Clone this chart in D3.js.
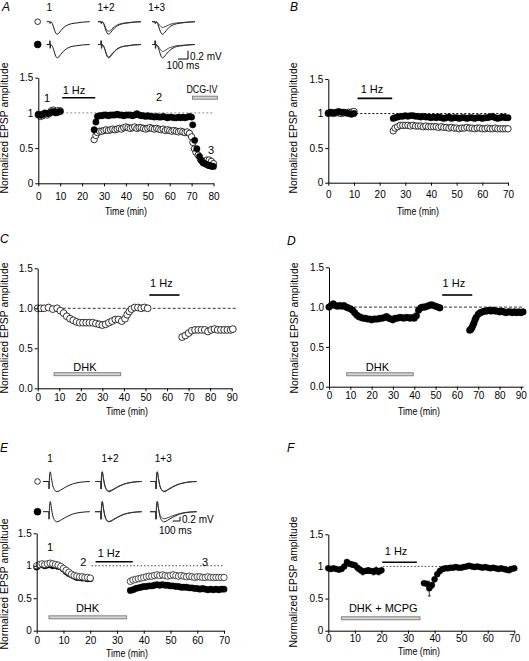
<!DOCTYPE html>
<html><head><meta charset="utf-8">
<script src="https://cdn.jsdelivr.net/npm/d3@7"></script>
<style>body{margin:0;background:#fff}svg{display:block}</style>
</head><body>
<svg id="c" width="529" height="661"></svg>
<script>
// ---------------- DATA ----------------
const yTicks = [0, 0.5, 1, 1.5];
const yTickLabelsInt = ["0", "0.5", "1", "1.5"];
const yTickLabelsDec = ["0.0", "0.5", "1.0", "1.5"];
const xTicks80 = [0,10,20,30,40,50,60,70,80];
const xTicks70 = [0,10,20,30,40,50,60,70];
const xTicks90 = [0,10,20,30,40,50,60,70,80,90];

// Panel A: [time (min), normalized amplitude]
const aFilled = [[0,0.98],[1,0.97],[2,0.98],[3,1.0],[4,0.99],[5,1.0],[6,1.01],[7,1.02],[8,1.0],[9,1.01],[10,1.02],
 [25.5,0.76],[26.3,0.87],[27,0.95],[28,0.96],[29,0.96],[30,0.97],[31,0.97],[32,0.96],[33,0.97],[34,0.97],[35,0.97],[36,0.98],[37,0.97],[38,0.97],[39,0.96],[40,0.97],[41,0.97],[42,0.97],[43,0.96],[44,0.97],[45,0.99],[46,0.97],[47,0.96],[48,0.96],[49,0.95],[50,0.96],[51,0.95],[52,0.95],[53,0.94],[54,0.95],[55,0.94],[56,0.94],[57,0.95],[58,0.94],[59,0.93],[60,0.94],[61,0.94],[62,0.93],[63,0.93],[64,0.94],[65,0.93],[66,0.94],[67,0.93],[68,0.94],[69,0.95],[70,0.94],
 [70.5,0.83],[71.4,0.61],[72.4,0.49],[73.6,0.38],[74.5,0.32],[75.3,0.29],[76,0.28],[76.7,0.27],[77.4,0.26],[78,0.25],[78.7,0.25],[79.3,0.24],[80,0.24]];
const aOpen = [[0,0.97],[1,0.95],[2,0.96],[3,0.98],[4,0.97],[5,0.99],[6,1.03],[7,1.04],[8,1.01],[9,1.03],[10,1.03],
 [25.5,0.62],[26.3,0.68],[27,0.72],[28,0.74],[29,0.74],[30,0.75],[31,0.76],[32,0.75],[33,0.76],[34,0.77],[35,0.76],[36,0.77],[37,0.78],[38,0.77],[39,0.79],[40,0.8],[41,0.79],[42,0.78],[43,0.79],[44,0.8],[45,0.78],[46,0.79],[47,0.79],[48,0.78],[49,0.77],[50,0.78],[51,0.79],[52,0.78],[53,0.77],[54,0.78],[55,0.77],[56,0.76],[57,0.77],[58,0.75],[59,0.76],[60,0.75],[61,0.74],[62,0.75],[63,0.74],[64,0.73],[65,0.74],[66,0.73],[67,0.72],[68,0.73],[69,0.71],
 [70,0.66],[70.6,0.58],[71.3,0.49],[72,0.44],[73,0.4],[74,0.34],[75,0.31],[76,0.31],[77,0.33],[78,0.33],[79,0.31],[80,0.28]];

// Panel B
const bFilled = [[0,1.01],[1,1.02],[2,1.01],[3,1.02],[4,1.03],[5,1.02],[6,1.02],[7,1.01],[8,1.0],[9,0.99],[10,1.0],
 [25.3,0.93],[26,0.94],[27,0.95],[28,0.96],[29,0.96],[30,0.97],[31,0.96],[32,0.97],[33,0.97],[34,0.96],[35,0.96],[36,0.95],[37,0.96],[38,0.95],[39,0.95],[40,0.94],[41,0.95],[42,0.94],[43,0.95],[44,0.94],[45,0.93],[46,0.94],[47,0.95],[48,0.93],[49,0.94],[50,0.94],[51,0.93],[52,0.94],[53,0.94],[54,0.93],[55,0.94],[56,0.94],[57,0.93],[58,0.94],[59,0.94],[60,0.93],[61,0.94],[62,0.94],[63,0.95],[64,0.96],[65,0.94],[66,0.93],[67,0.94],[68,0.95],[69,0.94],[70,0.94]];
const bOpen = [[0,1.0],[1,1.01],[2,1.0],[3,1.01],[4,1.01],[5,1.0],[6,1.01],[7,1.01],[8,1.02],[9,1.02],[10,1.03],
 [25.3,0.75],[26,0.79],[27,0.81],[28,0.83],[29,0.83],[30,0.83],[31,0.83],[32,0.82],[33,0.83],[34,0.82],[35,0.82],[36,0.82],[37,0.81],[38,0.82],[39,0.81],[40,0.81],[41,0.81],[42,0.81],[43,0.8],[44,0.81],[45,0.8],[46,0.8],[47,0.79],[48,0.8],[49,0.79],[50,0.79],[51,0.78],[52,0.79],[53,0.79],[54,0.8],[55,0.79],[56,0.79],[57,0.78],[58,0.79],[59,0.79],[60,0.78],[61,0.78],[62,0.79],[63,0.78],[64,0.78],[65,0.79],[66,0.78],[67,0.78],[68,0.78],[69,0.78],[70,0.78]];

// Panel C (open)
const cOpen = [[0,1.0],[1.5,1.0],[3,1.0],[5,1.01],[7,0.99],[9,1.0],[10.5,0.97],[12,0.94],[13.5,0.9],[15,0.87],[16.5,0.85],[18,0.83],[19.5,0.82],[21,0.82],[22.5,0.82],[24,0.82],[25.5,0.82],[27,0.81],[28.5,0.8],[30,0.79],[31.5,0.8],[33,0.82],[34.5,0.84],[36,0.86],[37.5,0.86],[39,0.84],[40.5,0.87],[41.5,0.92],[42.5,0.96],[43.5,0.99],[45,1.01],[46.5,1.01],[48,1.0],[49.5,1.01],[51,1.0],
 [67,0.64],[68.5,0.66],[70,0.69],[71.5,0.72],[73,0.73],[74.5,0.73],[76,0.73],[77.5,0.73],[79,0.71],[80.5,0.73],[82,0.74],[83.5,0.73],[85,0.73],[86.5,0.73],[88,0.73],[89.5,0.73],[90.5,0.74]];

// Panel D (filled)
const dFilled = [[0,1.0],[1,1.02],[2,1.04],[3,1.02],[4,1.01],[5,1.02],[6,1.01],[7,1.02],[8,1.0],[9,0.99],[10,0.98],[11,0.96],[12,0.93],[13,0.9],[14,0.88],[15,0.87],[16,0.86],[17,0.86],[18,0.85],[19,0.85],[20,0.84],[21,0.85],[22,0.85],[23,0.85],[24,0.86],[25,0.86],[26,0.87],[27,0.88],[28,0.86],[29,0.85],[30,0.84],[31,0.86],[32,0.86],[33,0.87],[34,0.87],[35,0.86],[36,0.87],[37,0.87],[38,0.86],[39,0.87],[40,0.86],[41,0.89],[42,0.96],[43,0.99],[44,1.0],[45,1.0],[46,1.01],[47,1.02],[48,1.03],[49,1.02],[50,1.01],[51,1.0],[52,0.99],
 [66,0.71],[66.5,0.72],[67,0.74],[67.5,0.77],[68,0.8],[68.5,0.84],[69,0.87],[70,0.91],[71,0.93],[72,0.94],[73,0.95],[74,0.95],[75,0.96],[76,0.95],[77,0.96],[78,0.95],[79,0.95],[80,0.94],[81,0.95],[82,0.94],[83,0.93],[84,0.94],[85,0.94],[86,0.93],[87,0.94],[88,0.93],[89,0.94],[90,0.93],[91,0.94]];

// Panel E
const eFilled = [[0,0.98],[1,1.01],[2,1.02],[3,1.0],[4,1.01],[5,1.02],[6,1.0],[7,1.01],[8,0.99],[9,0.98],[10,0.95],[11,0.91],[12,0.88],[13,0.86],[14,0.84],[15,0.82],[16,0.82],[17,0.81],[18,0.81],[19,0.8],[20,0.8],
 [35,0.62],[36,0.63],[37,0.65],[38,0.66],[39,0.67],[40,0.68],[41,0.68],[42,0.69],[43,0.69],[44,0.7],[45,0.71],[46,0.7],[47,0.71],[48,0.7],[49,0.7],[50,0.69],[51,0.69],[52,0.68],[53,0.68],[54,0.67],[55,0.67],[56,0.67],[57,0.66],[58,0.66],[59,0.65],[60,0.65],[61,0.64],[62,0.65],[63,0.64],[64,0.63],[65,0.64],[66,0.63],[67,0.64],[68,0.63],[69,0.64],[70,0.64]];
const eOpen = [[0,1.0],[1,1.02],[2,1.03],[3,1.02],[4,1.03],[5,1.04],[6,1.03],[7,1.02],[8,1.01],[9,0.99],[10,0.96],[11,0.93],[12,0.9],[13,0.87],[14,0.85],[15,0.84],[16,0.83],[17,0.83],[18,0.82],[19,0.82],[20,0.81],
 [35,0.76],[36,0.78],[37,0.79],[38,0.8],[39,0.81],[40,0.82],[41,0.83],[42,0.84],[43,0.84],[44,0.85],[45,0.86],[46,0.85],[47,0.86],[48,0.85],[49,0.84],[50,0.85],[51,0.86],[52,0.85],[53,0.84],[54,0.85],[55,0.84],[56,0.83],[57,0.84],[58,0.83],[59,0.82],[60,0.83],[61,0.83],[62,0.82],[63,0.82],[64,0.83],[65,0.82],[66,0.82],[67,0.82],[68,0.82],[69,0.82],[70,0.82]];

// Panel F: [time, mean, s.e.m.]
const fFilled = [[0,0.97,0.02],[1,0.96,0.02],[2,0.97,0.02],[3,0.96,0.02],[4,0.95,0.02],[5,0.96,0.02],[6,1.0,0.02],[7,1.07,0.03],[8,1.04,0.03],[9,1.03,0.04],[10,1.02,0.04],[11,0.98,0.05],[12,0.95,0.05],[13,0.92,0.05],[14,0.93,0.04],[15,0.94,0.05],[16,0.93,0.04],[17,0.92,0.05],[18,0.94,0.06],[19,0.92,0.05],[20,0.94,0.04],
 [36,0.74,0.03],[37,0.73,0.03],[38,0.66,0.12],[39,0.71,0.05],[40,0.8,0.04],[41,0.88,0.03],[42,0.93,0.03],[43,0.96,0.02],[44,0.97,0.02],[45,0.97,0.02],[46,0.98,0.02],[47,0.98,0.02],[48,0.99,0.02],[49,0.98,0.02],[50,0.98,0.02],[51,0.99,0.02],[52,1.0,0.02],[53,1.01,0.02],[54,1.0,0.02],[55,0.99,0.02],[56,1.0,0.02],[57,0.99,0.02],[58,0.98,0.02],[59,0.99,0.02],[60,0.98,0.02],[61,0.97,0.02],[62,0.98,0.02],[63,0.97,0.02],[64,0.96,0.02],[65,0.97,0.02],[66,0.96,0.02],[67,0.95,0.02],[68,0.94,0.02],[69,0.96,0.02],[70,0.97,0.02]];

// Example traces (time in ms, potential in mV)
const traceTimesA = [0,30,32,35,40,50,62,75,90,105,120,140,165,200,245,300,360,430];
const trAOpen1 = [0,0,-0.04,-0.04,0,-0.02,-0.08,-0.18,-0.27,-0.3,-0.28,-0.22,-0.15,-0.09,-0.05,-0.03,-0.01,0];
const trAOpen2 = [0,0,-0.04,-0.04,0,-0.02,-0.06,-0.14,-0.21,-0.23,-0.22,-0.17,-0.12,-0.07,-0.04,-0.02,-0.01,0];
const trAOpen3 = [0,0,-0.04,-0.04,0,-0.01,-0.04,-0.08,-0.12,-0.14,-0.13,-0.11,-0.08,-0.05,-0.03,-0.02,-0.01,0];
const trAFilled1 = [0,0,0.09,-0.09,0,-0.02,-0.07,-0.17,-0.28,-0.32,-0.3,-0.24,-0.17,-0.1,-0.05,-0.03,-0.01,0];
const trAFilled2 = [0,0,0.09,-0.09,0,-0.02,-0.07,-0.16,-0.26,-0.3,-0.28,-0.22,-0.16,-0.09,-0.05,-0.03,-0.01,0];
const trAFilled3 = [0,0,0.09,-0.09,0,-0.01,-0.04,-0.09,-0.14,-0.17,-0.16,-0.13,-0.09,-0.06,-0.03,-0.02,-0.01,0];

const traceTimesE = [0,80,82,90,100,115,135,160,190,220,260,310,370,440,520,640];
const trEOpen1 = [0,0,-0.35,0.3,0.45,0.15,-0.2,-0.4,-0.47,-0.44,-0.36,-0.26,-0.16,-0.08,-0.03,0];
const trEOpen2 = [0,0,-0.35,0.3,0.45,0.15,-0.18,-0.37,-0.44,-0.41,-0.34,-0.24,-0.15,-0.08,-0.03,0];
const trEOpen3 = [0,0,-0.35,0.3,0.45,0.15,-0.18,-0.38,-0.45,-0.42,-0.34,-0.24,-0.15,-0.08,-0.03,0];
const trEFilled1 = [0,0,-0.35,0.3,0.47,0.17,-0.2,-0.4,-0.47,-0.44,-0.36,-0.26,-0.16,-0.08,-0.03,0];
const trEFilled2 = [0,0,-0.35,0.3,0.47,0.17,-0.18,-0.38,-0.45,-0.42,-0.34,-0.25,-0.15,-0.08,-0.03,0];
const trEFilled3 = [0,0,-0.35,0.3,0.47,0.17,-0.12,-0.27,-0.33,-0.31,-0.26,-0.19,-0.12,-0.06,-0.02,0];

const traceLabels = ["1", "1+2", "1+3"];

// ---------------- DRAWING ----------------
const FF = '"Liberation Sans", Arial, Helvetica, sans-serif';
const svg = d3.select("#c");

function txt(g, x, y, s, size, anchor, opts) {
  opts = opts || {};
  const t = g.append("text").attr("x", x).attr("y", y).text(s)
    .attr("font-family", FF).attr("font-size", size)
    .attr("text-anchor", anchor || "middle").attr("fill", "#000");
  if (opts.italic) t.attr("font-style", "italic");
  if (opts.len) t.attr("textLength", opts.len).attr("lengthAdjust", "spacingAndGlyphs");
  if (opts.dy) t.attr("dy", opts.dy);
  return t;
}

function drawPanel(p) {
  const g = svg.append("g");
  const x = d3.scaleLinear().domain(p.xDomain).range(p.xRange);
  const y = d3.scaleLinear().domain([0, 1.5]).range(p.yRange);

  g.append("line").attr("x1", x(p.dash[0])).attr("x2", x(p.dash[1]))
    .attr("y1", y(1)).attr("y2", y(1))
    .attr("stroke", p.dashColor).attr("stroke-width", 1).attr("stroke-dasharray", p.dashArray);

  p.bars.forEach(b => {
    if (b.kind === "stim") {
      g.append("line").attr("x1", x(b.from)).attr("x2", x(b.to))
        .attr("y1", y(b.v)).attr("y2", y(b.v)).attr("stroke", "#000").attr("stroke-width", 1.6);
    } else {
      g.append("rect").attr("x", x(b.from)).attr("width", x(b.to) - x(b.from))
        .attr("y", y(b.v) - 1.5).attr("height", 3)
        .attr("fill", "#d4d4d4").attr("stroke", "#777").attr("stroke-width", 0.9);
    }
    txt(g, x(b.lt), y(b.lv), b.label, b.size || 11, "middle", {dy: "0.35em", len: b.len});
  });
  (p.notes || []).forEach(n => txt(g, x(n.t), y(n.v), n.label, 11, "middle", {dy: "0.35em"}));

  p.series.forEach(s => {
    if (s.err) {
      g.selectAll(null).data(s.data).join("line")
        .attr("x1", d => x(d[0])).attr("x2", d => x(d[0]))
        .attr("y1", d => y(d[1] - d[2])).attr("y2", d => y(d[1] + d[2]))
        .attr("stroke", "#000").attr("stroke-width", 0.8);
      g.selectAll(null).data(s.data).join("line")
        .attr("x1", d => x(d[0]) - 1.5).attr("x2", d => x(d[0]) + 1.5)
        .attr("y1", d => y(d[1] - d[2])).attr("y2", d => y(d[1] - d[2]))
        .attr("stroke", "#000").attr("stroke-width", 0.8);
    }
    g.selectAll(null).data(s.data).join("circle")
      .attr("cx", d => x(d[0])).attr("cy", d => y(d[1])).attr("r", s.r)
      .attr("fill", s.filled ? "#000" : "#fff")
      .attr("stroke", s.stroke || "#000").attr("stroke-width", s.filled ? 0.4 : 0.8);
  });

  const xa = g.append("g").attr("transform", `translate(0,${p.yRange[0]})`)
    .call(d3.axisBottom(x).tickValues(p.xTicks).tickSize(3).tickSizeOuter(0));
  xa.selectAll("text").attr("y", p.xLabOff).attr("dy", "0");
  const ya = g.append("g").attr("transform", `translate(${p.xRange[0]},0)`)
    .call(d3.axisLeft(y).tickValues(yTicks).tickFormat((d, i) => p.yLabels[i]).tickSize(3).tickPadding(2).tickSizeOuter(0));
  [xa, ya].forEach(a => {
    a.attr("font-family", FF).attr("font-size", 10);
    a.selectAll("path,line").attr("stroke", "#000").attr("stroke-width", 1);
    a.selectAll("text").attr("fill", "#000");
  });

  txt(g, 0, 0, "Normalized EPSP amplitude", 10.4, "middle")
    .attr("transform", `translate(${p.yTitleX},${p.yTitleY}) rotate(-90)`);
  txt(g, p.xTitleX, p.xTitleY, "Time (min)", 10.4, "middle", {len: 42});
  txt(g, p.letterX, p.letterY, p.letter, 12, "start", {italic: true});
}

function drawTraces(tc) {
  const g = svg.append("g");
  const tmax = d3.max(tc.times);
  tc.labels.forEach((l, i) => txt(g, tc.labelX[i], tc.labelY, l, 10, "middle", {dy: "0.35em"}));
  tc.rows.forEach((row, ri) => {
    const base = tc.rowBase[ri];
    const y = d3.scaleLinear().domain([0, 1]).range([base, base - tc.pxPerMv]);
    g.append("circle").attr("cx", tc.markerX).attr("cy", base).attr("r", row.filled ? 3.4 : 2.8)
      .attr("fill", row.filled ? "#000" : "#fff").attr("stroke", "#000").attr("stroke-width", 0.8);
    row.groups.forEach((traces, gi) => {
      const x0 = tc.starts[gi];
      const x = d3.scaleLinear().domain([0, tmax]).range([x0, x0 + tmax * tc.pxPerMs]);
      const line = d3.line().x((d, k) => x(tc.times[k])).y(d => y(d)).curve(d3.curveMonotoneX);
      traces.forEach((tr, ti) => {
        g.append("path").attr("d", line(tr)).attr("fill", "none")
          .attr("stroke", ti === 0 ? "#000" : "#333").attr("stroke-width", 0.9);
      });
    });
  });
  const sb = tc.scaleBar;
  const sx = d3.scaleLinear().domain([0, 100]).range([sb.x, sb.x + 100 * tc.pxPerMs]);
  const sy = d3.scaleLinear().domain([0, 0.2]).range([sb.y, sb.y - 0.2 * tc.pxPerMv]);
  g.append("path").attr("d", `M${sx(0)},${sy(0)}H${sx(100)}V${sy(0.2)}`)
    .attr("fill", "none").attr("stroke", "#000").attr("stroke-width", 1);
  txt(g, sx(100) + 2, sb.mvY, "0.2 mV", 10, "start", {dy: "0.35em"});
  txt(g, sb.msX, sb.msY, "100 ms", 10, "middle", {dy: "0.35em"});
}

drawPanel({
  letter: "A", letterX: 2, letterY: 11,
  xDomain: [0, 80], xRange: [38.3, 213.5], yRange: [183.3, 77.7],
  xTicks: xTicks80, yLabels: yTickLabelsInt, xLabOff: 17,
  dash: [0, 80], dashColor: "#8a8a8a", dashArray: "2,2",
  bars: [
    {kind: "stim", from: 10.9, to: 26, v: 1.216, label: "1 Hz", lt: 16.3, lv: 1.325},
    {kind: "drug", from: 70.4, to: 81.8, v: 1.216, label: "DCG-IV", lt: 74.7, lv: 1.34, size: 10.5, len: 31}
  ],
  notes: [{label: "1", t: 4.0, v: 1.21}, {label: "2", t: 55.1, v: 1.23}, {label: "3", t: 78.9, v: 0.47}],
  series: [{data: aOpen, filled: false, r: 3.2}, {data: aFilled, filled: true, r: 3.2}],
  yTitleX: 8, yTitleY: 128, xTitleX: 126, xTitleY: 215
});
drawPanel({
  letter: "B", letterX: 290, letterY: 11,
  xDomain: [0, 70], xRange: [328.3, 508], yRange: [182.7, 79],
  xTicks: xTicks70, yLabels: yTickLabelsInt, xLabOff: 15,
  dash: [0, 70], dashColor: "#000", dashArray: "2,2",
  bars: [{kind: "stim", from: 11.4, to: 24.9, v: 1.22, label: "1 Hz", lt: 17.0, lv: 1.356}],
  series: [{data: bOpen, filled: false, r: 3.2}, {data: bFilled, filled: true, r: 3.2}],
  yTitleX: 297, yTitleY: 128, xTitleX: 418, xTitleY: 215
});
drawPanel({
  letter: "C", letterX: 0, letterY: 243,
  xDomain: [0, 90], xRange: [37.7, 231.7], yRange: [388.3, 268.3],
  xTicks: xTicks90, yLabels: yTickLabelsDec, xLabOff: 12.5,
  dash: [0, 92], dashColor: "#333", dashArray: "3,2",
  bars: [
    {kind: "stim", from: 51.8, to: 65.8, v: 1.166, label: "1 Hz", lt: 57.4, lv: 1.316},
    {kind: "drug", from: 7.6, to: 38.5, v: 0.176, label: "DHK", lt: 21.9, lv: 0.267}
  ],
  series: [{data: cOpen, filled: false, r: 3.4}],
  yTitleX: 8, yTitleY: 328, xTitleX: 127, xTitleY: 415
});
drawPanel({
  letter: "D", letterX: 287, letterY: 245,
  xDomain: [0, 91], xRange: [329, 523], yRange: [386.7, 267.3],
  xTicks: xTicks90, yLabels: yTickLabelsDec, xLabOff: 12.5,
  dash: [0, 91], dashColor: "#333", dashArray: "3,2",
  bars: [
    {kind: "stim", from: 53.1, to: 67.2, v: 1.152, label: "1 Hz", lt: 58.6, lv: 1.3},
    {kind: "drug", from: 8.3, to: 39.5, v: 0.156, label: "DHK", lt: 22.7, lv: 0.25}
  ],
  series: [{data: dFilled, filled: true, r: 3.3}],
  yTitleX: 298, yTitleY: 328, xTitleX: 419, xTitleY: 415
});
drawPanel({
  letter: "E", letterX: 0, letterY: 452,
  xDomain: [0, 70], xRange: [36.7, 224], yRange: [630.7, 533.3],
  xTicks: xTicks70, yLabels: yTickLabelsInt, xLabOff: 13,
  dash: [20.5, 70], dashColor: "#444", dashArray: "1.5,2",
  bars: [
    {kind: "stim", from: 22.0, to: 35.9, v: 1.063, label: "1 Hz", lt: 27.0, lv: 1.19},
    {kind: "drug", from: 4.6, to: 33.6, v: 0.206, label: "DHK", lt: 19.0, lv: 0.345}
  ],
  notes: [{label: "1", t: 5.0, v: 1.28}, {label: "2", t: 17.4, v: 1.063}, {label: "3", t: 62.9, v: 1.063}],
  series: [{data: eFilled, filled: true, r: 3.2}, {data: eOpen, filled: false, r: 3.2, stroke: "#222"}],
  yTitleX: 8, yTitleY: 584, xTitleX: 127, xTitleY: 657
});
drawPanel({
  letter: "F", letterX: 287, letterY: 452,
  xDomain: [0, 70], xRange: [328.3, 514.3], yRange: [630.7, 534.3],
  xTicks: xTicks70, yLabels: yTickLabelsInt, xLabOff: 11,
  dash: [20.5, 70], dashColor: "#444", dashArray: "1.5,2",
  bars: [
    {kind: "stim", from: 20.3, to: 33.3, v: 1.064, label: "1 Hz", lt: 25.5, lv: 1.245},
    {kind: "drug", from: 5.0, to: 34.5, v: 0.193, label: "DHK + MCPG", lt: 20.7, lv: 0.348}
  ],
  series: [{data: fFilled, filled: true, r: 3.0, err: true}],
  yTitleX: 297, yTitleY: 582, xTitleX: 419, xTitleY: 655
});

drawTraces({
  times: traceTimesA, pxPerMs: 0.1, pxPerMv: 41.5,
  starts: [46.7, 98, 152], rowBase: [21.7, 44.5], markerX: 37.7,
  labels: traceLabels, labelX: [49.3, 106, 156.7], labelY: 7.5,
  rows: [
    {filled: false, groups: [[trAOpen1], [trAOpen1, trAOpen2], [trAOpen1, trAOpen3]]},
    {filled: true, groups: [[trAFilled1], [trAFilled1, trAFilled2], [trAFilled1, trAFilled3]]}
  ],
  scaleBar: {x: 178, y: 59, mvY: 56, msX: 183, msY: 65}
});
drawTraces({
  times: traceTimesE, pxPerMs: 0.073, pxPerMv: 21.5,
  starts: [43, 95, 150], rowBase: [481.5, 511.7], markerX: 37.5,
  labels: traceLabels, labelX: [50, 110, 163.3], labelY: 458.3,
  rows: [
    {filled: false, groups: [[trEOpen1], [trEOpen1, trEOpen2], [trEOpen1, trEOpen3]]},
    {filled: true, groups: [[trEFilled1], [trEFilled1, trEFilled2], [trEFilled1, trEFilled3]]}
  ],
  scaleBar: {x: 172.7, y: 521, mvY: 519.3, msX: 175.3, msY: 530}
});
</script>
</body></html>
